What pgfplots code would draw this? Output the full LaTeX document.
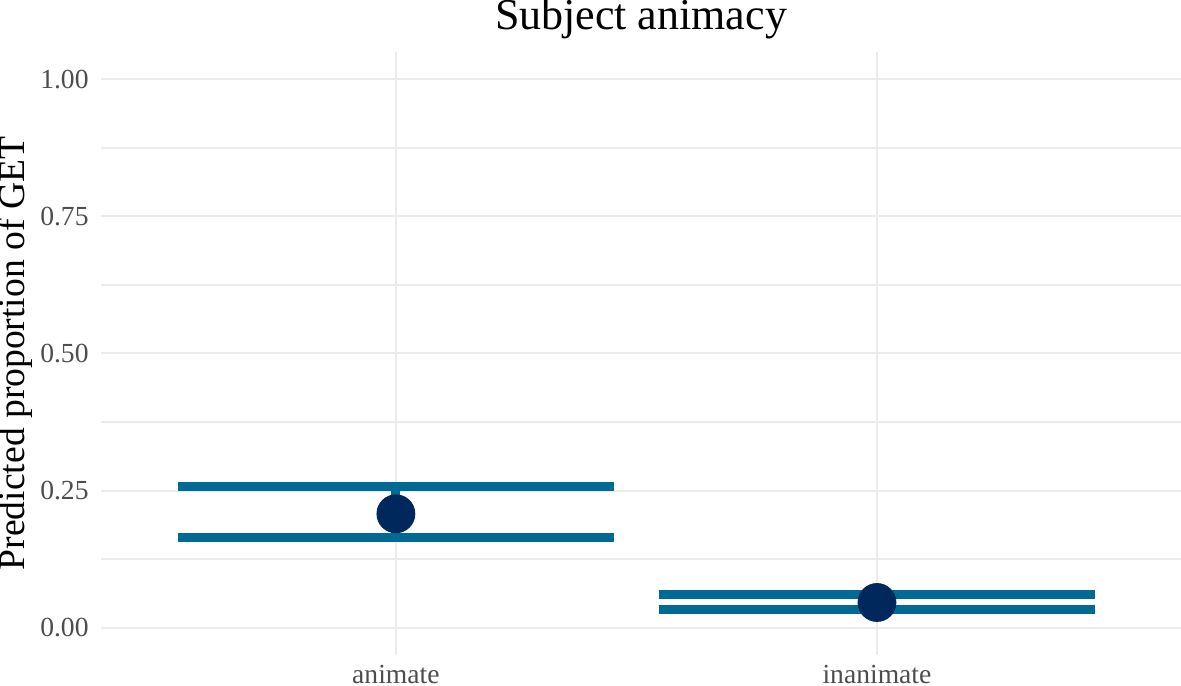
\documentclass[border=0pt]{standalone}
\usepackage{fontspec}
\setmainfont{Liberation Serif}
\usepackage{pgfplots}
\pgfplotsset{compat=1.18}

\definecolor{capblue}{RGB}{0,105,148}
\definecolor{ptnavy}{RGB}{0,40,92}
\definecolor{gridgray}{RGB}{235,235,235}
\definecolor{ticktext}{RGB}{77,77,77}

\begin{document}
\begin{tikzpicture}
\path[use as bounding box] (-50.5pt,-15pt) rectangle (540pt,327.5pt);
\begin{axis}[
  at={(0pt,0pt)}, anchor=south west,
  scale only axis,
  width=540pt, height=301.5pt,
  xmin=0.387, xmax=2.632,
  ymin=-0.05, ymax=1.05,
  xtick={1,2},
  xticklabels={animate,inanimate},
  ytick={0,0.25,0.5,0.75,1},
  minor ytick={0.125,0.375,0.625,0.875},
  /pgf/number format/fixed,
  /pgf/number format/fixed zerofill,
  /pgf/number format/precision=2,
  /pgf/number format/assume math mode=true,
  grid=both,
  major grid style={gridgray, line width=1pt},
  minor grid style={gridgray, line width=0.6pt},
  axis line style={draw=none},
  tick style={draw=none},
  major tick length=0pt, minor tick length=0pt,
  ticklabel style={font=\fontsize{13.8}{16}\selectfont, text=ticktext},
  yticklabel style={anchor=east, inner sep=0pt, xshift=-6pt},
  xticklabel style={anchor=base, inner sep=0pt, yshift=-14.3pt},
  title={Subject animacy},
  title style={at={(axis description cs:0.5,1)}, anchor=base, yshift=5pt, font=\fontsize{22}{25}\selectfont},
  ylabel={Predicted proportion of GET},
  ylabel style={at={(axis description cs:-0.0704,0.5)}, anchor=base, font=\fontsize{18.8}{22}\selectfont},
  clip=false,
]
% error bars: lower / upper bounds of the prediction
\addplot[only marks, mark=none,
  error bars/.cd, y dir=both, y explicit,
  error bar style={capblue, line width=4.5pt},
  error mark options={rotate=90, mark size=109pt, line width=4.5pt, capblue}]
  coordinates {
    (1,0.2076) += (0,0.0502) -= (0,0.0425)
    (2,0.0458) += (0,0.0151) -= (0,0.0122)
  };
% point estimates
\addplot[only marks, mark=*, mark size=9.5pt, draw=ptnavy, fill=ptnavy]
  coordinates {
    (1,0.2076)
    (2,0.0458)
  };
\end{axis}
\end{tikzpicture}
\end{document}
